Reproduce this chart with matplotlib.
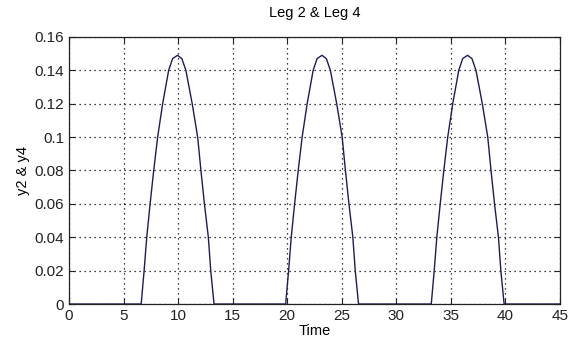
import matplotlib
matplotlib.use("Agg")
import matplotlib.pyplot as plt

plt.rcParams["font.family"] = ["Liberation Sans", "DejaVu Sans"]

# valores (una joroba por ciclo)
hump_y = [0, 0.02, 0.04, 0.06, 0.08, 0.10, 0.12, 0.14, 0.147, 0.149,
          0.147, 0.14, 0.12, 0.10, 0.08, 0.06, 0.04, 0.02, 0]
t1 = [6.62, 6.89, 7.13, 7.44, 7.77, 8.13, 8.59, 9.14, 9.5, 9.95,
      10.35, 10.72, 11.3, 11.8, 12.1, 12.42, 12.78, 13.0, 13.3]
t2 = [19.87, 20.14, 20.38, 20.69, 21.02, 21.38, 21.84, 22.39, 22.75, 23.2,
      23.6, 23.97, 24.55, 25.05, 25.35, 25.67, 26.03, 26.25, 26.55]
t3 = [33.22, 33.49, 33.73, 34.04, 34.37, 34.73, 35.19, 35.74, 36.1, 36.55,
      36.95, 37.32, 37.9, 38.4, 38.7, 39.02, 39.38, 39.6, 39.9]

time = [0] + t1 + t2 + t3 + [45]
y = [0] + hump_y + hump_y + hump_y + [0]

x_ticks = [0, 5, 10, 15, 20, 25, 30, 35, 40, 45]
y_ticks = [0, 0.02, 0.04, 0.06, 0.08, 0.1, 0.12, 0.14, 0.16]
y_labels = ["0", "0.02", "0.04", "0.06", "0.08", "0.1", "0.12", "0.14", "0.16"]

fig = plt.figure(figsize=(5.7, 3.42), dpi=100)
ax = fig.add_axes([0.121, 0.111, 0.861, 0.781])
ax.plot(time, y, color="#1c1c5a", linewidth=1.0)

ax.set_xlim(0, 45)
ax.set_ylim(0, 0.16)
ax.set_xticks(x_ticks)
ax.set_yticks(y_ticks)
ax.set_yticklabels(y_labels)
ax.tick_params(direction="in", top=True, right=True, length=4, labelsize=11, colors="#222222")
ax.grid(True, linestyle=(0, (1, 3)), color="black", linewidth=0.9)
for s in ax.spines.values():
    s.set_linewidth(0.9)
    s.set_color("#222222")

ax.set_title("Leg 2 & Leg 4", fontsize=10.5, pad=14)
ax.set_xlabel("Time", fontsize=10.5, labelpad=1)
ax.set_ylabel("y2 & y4", fontsize=10.5, labelpad=3)

fig.savefig("out.png", dpi=100, facecolor="white")
